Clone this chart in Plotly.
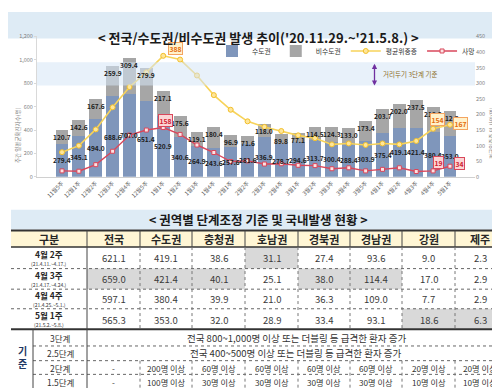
import plotly.graph_objects as go

# ---------------- chart data ----------------
weeks = ["11월5주", "12월1주", "12월2주", "12월3주", "12월4주", "12월5주", "1월1주", "1월2주",
         "1월3주", "1월4주", "2월1주", "2월2주", "2월3주", "2월4주", "3월1주", "3월2주",
         "3월3주", "3월4주", "3월5주", "4월1주", "4월2주", "4월3주", "4월4주", "5월1주"]
metro = [279.4, 345.1, 494.0, 688.6, 707.0, 651.4, 520.9, 340.6, 264.9, 243.6, 257.6, 281.6,
         336.9, 278.7, 294.6, 313.7, 300.4, 288.4, 303.9, 375.4, 419.1, 421.4, 380.4, 353.0]
nonmetro = [120.7, 142.6, 167.6, 259.9, 309.4, 279.9, 217.1, 175.6, 119.1, 180.4, 96.9, 71.6,
            118.0, 89.8, 77.1, 114.5, 124.3, 133.0, 173.4, 203.7, 202.0, 237.5, 216.8, 212.3]
severe = [79, 100, 152, 223, 288, 335, 388, 376, 325, 262, 215, 178,
          160, 147, 133, 124, 104, 107, 102, 107, 104, 115, 154, 167]
deaths = [19, 18, 39, 82, 134, 150, 158, 136, 102, 78, 49, 51,
          41, 42, 37, 36, 26, 29, 19, 24, 29, 17, 19, 34]
left_ticks = [0, 200, 400, 600, 800, 1000, 1200]
left_ticktext = ["0", "200", "400", "600", "800", "1,000", "1,200"]
right_ticks = [0, 50, 100, 150, 200, 250, 300, 350, 400, 450]
band_range = [780, 980]
severe_flags = {6: "388", 22: "154", 23: "167"}
death_flags = {6: "158", 22: "19", 23: "34"}

# ---------------- table data ----------------
header = ["구분", "전국", "수도권", "충청권", "호남권", "경북권", "경남권", "강원", "제주"]
row_weeks = ["4월 2주", "4월 3주", "4월 4주", "5월 1주"]
row_dates = ["(21.4.11.~4.17.)", "(21.4.17.~4.24.)", "(21.4.25.~5.1.)", "(21.5.2.~5.8.)"]
table_vals = [
    [621.1, 419.1, 38.6, 31.1, 27.4, 93.6, 9.0, 2.3],
    [659.0, 421.4, 40.1, 25.1, 38.0, 114.4, 17.0, 2.9],
    [597.1, 380.4, 39.9, 21.0, 36.3, 109.0, 7.7, 2.9],
    [565.3, 353.0, 32.0, 28.9, 33.4, 93.1, 18.6, 6.3],
]
shaded = [
    [0, 0, 0, 1, 0, 0, 0, 0],
    [1, 1, 1, 0, 1, 1, 0, 0],
    [0, 0, 0, 0, 0, 0, 0, 0],
    [0, 0, 0, 0, 0, 0, 1, 1],
]
stage_labels = ["3단계", "2.5단계", "2단계", "1.5단계"]
stage_wide = ["전국 800~1,000명 이상 또는 더블링 등 급격한 환자 증가",
              "전국 400~500명 이상 또는 더블링 등 급격한 환자 증가"]
stage2 = ["-", "200명 이상", "60명 이상", "60명 이상", "60명 이상", "60명 이상", "20명 이상", "20명 이상"]
stage15 = ["-", "100명 이상", "30명 이상", "30명 이상", "30명 이상", "30명 이상", "10명 이상", "10명 이상"]

W, H = 500, 388
FONT = "Noto Sans CJK KR, Noto Sans, sans-serif"


def px(x):
    return x / W


def py(y):
    return 1 - y / H


fig = go.Figure()

BLUE = "#7f96bb"
GRAY = "#a6a6a6"
YEL = "#f7d35a"
RED = "#d9475b"

fig.add_trace(go.Bar(x=weeks, y=metro, name="수도권", marker_color=BLUE, marker_line_width=0))
fig.add_trace(go.Bar(x=weeks, y=nonmetro, name="비수도권", marker_color=GRAY, marker_line_width=0))
fig.add_trace(go.Scatter(x=weeks, y=severe, name="평균위중증", yaxis="y2", mode="lines+markers",
                         line=dict(color=YEL, width=1.6),
                         marker=dict(symbol="circle", size=5, color="#ffe699",
                                     line=dict(color="#f2bf2a", width=1))))
fig.add_trace(go.Scatter(x=weeks, y=deaths, name="사망", yaxis="y2", mode="lines+markers",
                         line=dict(color=RED, width=1.4),
                         marker=dict(symbol="square", size=4, color="#fbe3e3",
                                     line=dict(color=RED, width=1))))

ann = []
LBL = dict(size=6.6, color="#1c1c1c", family=FONT, weight="bold")
# bar labels
for w, m, n in zip(weeks, metro, nonmetro):
    ann.append(dict(x=w, y=m / 2, xref="x", yref="y", text=f"{m:.1f}", showarrow=False, font=LBL))
    ann.append(dict(x=w, y=m + n, xref="x", yref="y", text=f"{n:.1f}", showarrow=False, yshift=-7,
                    font=LBL))

# flagged labels
for i, t in severe_flags.items():
    xs, ys = (12, 7) if i == 6 else ((4, 9) if i == 22 else (11, 1))
    ann.append(dict(x=weeks[i], y=severe[i], xref="x", yref="y2", text=t, showarrow=False,
                    xshift=xs, yshift=ys, bgcolor="#fff2cc", bordercolor="#f4a460", borderwidth=1,
                    borderpad=0.5,
                    font=dict(size=6.8, color="#e46c0a", family=FONT, weight="bold")))
for i, t in death_flags.items():
    xs, ys = (2, 7) if i == 6 else ((5, 8) if i == 22 else (10, 3))
    ann.append(dict(x=weeks[i], y=deaths[i], xref="x", yref="y2", text=t, showarrow=False,
                    xshift=xs, yshift=ys, bgcolor="#fbd5d5", bordercolor=RED, borderwidth=1,
                    borderpad=0.5,
                    font=dict(size=6.8, color="#d0202f", family=FONT, weight="bold")))

# band label + arrow
ann.append(dict(x=px(366.5), y=band_range[0], xref="paper", yref="y", ax=0, ay=band_range[1],
                axref="pixel", ayref="y", text="", showarrow=True, arrowhead=2, startarrowhead=2,
                arrowside="end+start", arrowsize=0.8, arrowwidth=1.3, arrowcolor="#7030a0"))
ann.append(dict(x=px(373), y=sum(band_range) / 2, xref="paper", yref="y", xanchor="left",
                text="거리두기 3단계 기준", showarrow=False,
                font=dict(size=6.5, color="#8a6a1a", family=FONT)))

# axis titles
ann.append(dict(x=px(4), y=py(95), xref="paper", yref="paper", text="주간 일평균확진자수(명)",
                textangle=-90, showarrow=False, font=dict(size=5.5, color="#7f7f7f", family=FONT)))
ann.append(dict(x=px(490), y=py(95), xref="paper", yref="paper", text="평균위중증 및 사망(명)",
                textangle=-90, showarrow=False, font=dict(size=5.5, color="#7f7f7f", family=FONT)))

shapes = []
# chart title band
shapes.append(dict(type="rect", xref="paper", yref="paper", x0=px(0), x1=px(500), y0=py(27), y1=py(0),
                   fillcolor="#deebf5", line_width=0, layer="below"))
ann.append(dict(x=px(250), y=py(14), xref="paper", yref="paper",
                text="< 전국/수도권/비수도권 발생 추이('20.11.29.~'21.5.8.) >", showarrow=False,
                font=dict(size=13, color="#1a1a1a", family=FONT, weight="bold")))
# band (over bars)
shapes.append(dict(type="rect", xref="paper", yref="y", x0=px(29), x1=px(467),
                   y0=band_range[0], y1=band_range[1],
                   fillcolor="rgba(214,230,246,0.55)", line_width=0, layer="above"))

# ---------------- table ----------------
cols = [3, 79, 132, 184, 237, 290, 342, 394, 447, 497]
hdr = [223, 240]
rows = [240, 262, 283, 303, 324]
crit = [324, 341, 356, 370, 385]


def hline(y, x0, x1, w=1, color="#555", dash="solid"):
    shapes.append(dict(type="line", xref="paper", yref="paper", x0=px(x0), x1=px(x1), y0=py(y), y1=py(y),
                       line=dict(color=color, width=w, dash=dash)))


def vline(x, y0, y1, w=1, color="#555", dash="solid"):
    shapes.append(dict(type="line", xref="paper", yref="paper", x0=px(x), x1=px(x), y0=py(y0), y1=py(y1),
                       line=dict(color=color, width=w, dash=dash)))


def rect(x0, y0, x1, y1, color):
    shapes.append(dict(type="rect", xref="paper", yref="paper", x0=px(x0), x1=px(x1), y0=py(y1), y1=py(y0),
                       fillcolor=color, line_width=0, layer="below"))


def text(x, y, t, size=10, color="#333", bold=False, anchor="center"):
    ann.append(dict(x=px(x), y=py(y), xref="paper", yref="paper", text=t, showarrow=False,
                    xanchor=anchor, yanchor="middle", borderpad=0,
                    font=dict(size=size, color=color, family=FONT, weight="bold" if bold else "normal")))


# table title band
rect(3, 202, 497, 222, "#deebf5")
text(250, 212, "< 권역별 단계조정 기준 및 국내발생 현황 >", size=12.5, color="#1a1a1a", bold=True)
# header
rect(cols[0], hdr[0], cols[-1], hdr[1], "#fff6d5")
for j, h in enumerate(header):
    text((cols[j] + cols[j + 1]) / 2, (hdr[0] + hdr[1]) / 2 + 0.5, h, size=11, color="#262626", bold=True)
# shading
for i in range(4):
    for j in range(8):
        if shaded[i][j]:
            rect(cols[j + 1], rows[i], cols[j + 2], rows[i + 1], "#d9d9d9")
# data rows
for i in range(4):
    yc = (rows[i] + rows[i + 1]) / 2
    text(41, yc - 4, row_weeks[i], size=8.5, color="#262626", bold=True)
    text(41, yc + 5.5, row_dates[i], size=5, color="#333")
    for j in range(8):
        text((cols[j + 1] + cols[j + 2]) / 2, yc + 0.5, f"{table_vals[i][j]:.1f}", size=9.5, color="#3a3a3a")
# criteria
text(14, 352, "기<br>준", size=10, color="#1f3864", bold=True)
for k in range(4):
    yc = (crit[k] + crit[k + 1]) / 2
    text(52, yc, stage_labels[k], size=8.5, color="#333")
for k in range(2):
    yc = (crit[k] + crit[k + 1]) / 2
    text(288, yc, stage_wide[k], size=9.5, color="#333")
for k, vals in ((2, stage2), (3, stage15)):
    yc = (crit[k] + crit[k + 1]) / 2
    for j in range(8):
        text((cols[j + 1] + cols[j + 2]) / 2, yc, vals[j], size=8.2, color="#333")

# lines
hline(hdr[0], 3, 497, w=2, color="#333")
hline(hdr[1], 3, 497, w=1.5, color="#333")
for y in rows[1:-1]:
    hline(y, 3, 497, w=1, color="#666", dash="dot")
hline(rows[-1], 3, 497, w=2, color="#333")
for y in crit[1:-1]:
    hline(y, 25, 497, w=1, color="#666", dash="dot")
hline(crit[-1], 3, 497, w=2, color="#333")
for x in cols[1:-1]:
    vline(x, hdr[0], hdr[1], w=1, color="#444")
vline(cols[1], rows[0], crit[-1], w=1, color="#444")
for x in cols[2:-1]:
    vline(x, rows[0], rows[-1], w=1, color="#777", dash="dot")
    vline(x, crit[2], crit[-1], w=1, color="#777", dash="dot")
vline(25, crit[0], crit[-1], w=1, color="#444")

fig.update_layout(
    width=W, height=H, margin=dict(l=0, r=0, t=0, b=0),
    paper_bgcolor="white", plot_bgcolor="white",
    barmode="stack", bargap=0.24,
    font=dict(family=FONT),
    xaxis=dict(domain=[px(29), px(467)], type="category", tickangle=-45,
               tickfont=dict(size=5.8, color="#595959"), showline=True, linecolor="#d0d0d0",
               ticks="", showgrid=False, anchor="y"),
    yaxis=dict(domain=[py(168.3), py(25)], range=[0, 1200], tickvals=left_ticks, ticktext=left_ticktext,
               tickfont=dict(size=5.5, color="#7f7f7f"), showgrid=False, zeroline=False,
               showline=True, linecolor="#d9d9d9", ticks="outside", ticklen=2, tickcolor="#d9d9d9"),
    yaxis2=dict(overlaying="y", side="right", range=[0, 450], tickvals=right_ticks,
                tickfont=dict(size=5.5, color="#7f7f7f"), showgrid=False, zeroline=False, showline=False),
    legend=dict(orientation="h", x=px(472), xanchor="right", y=py(25), yanchor="top",
                font=dict(size=6.8, color="#333"), itemwidth=30, bgcolor="rgba(0,0,0,0)",
                traceorder="normal", tracegroupgap=0),
    annotations=ann, shapes=shapes,
)

fig.write_html("out.html")
